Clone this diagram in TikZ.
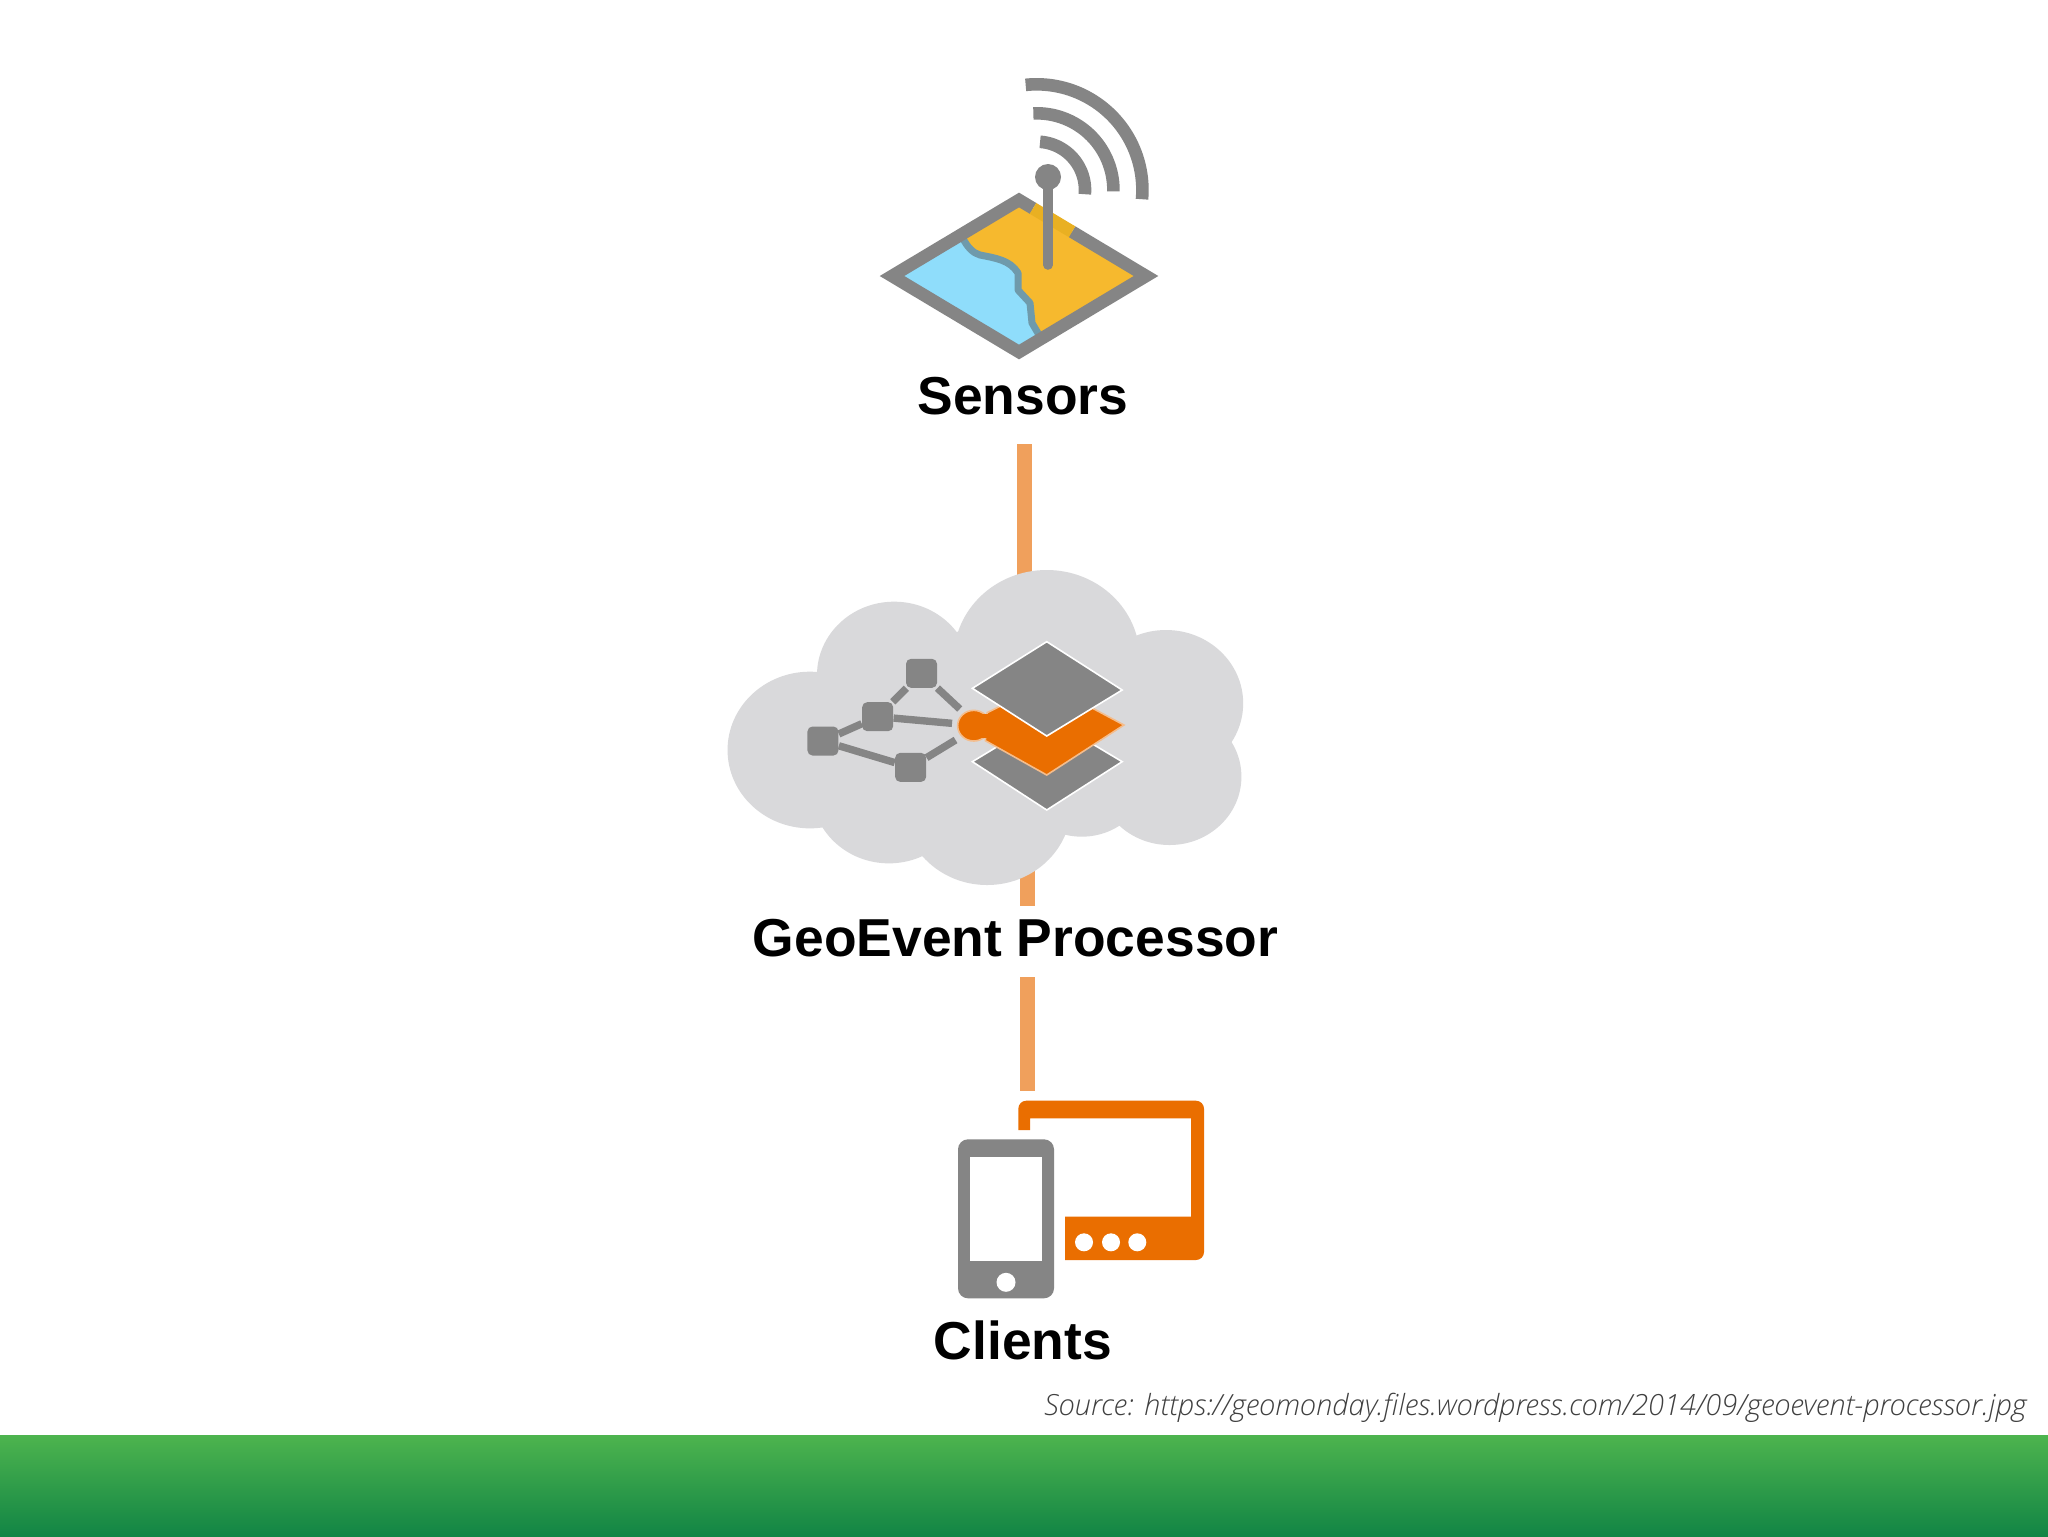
\documentclass[tikz,border=0pt]{standalone}
\usepackage{fontspec}
\setmainfont{Liberation Sans}
\newfontfamily\srcfont{Open Sans Light}
\definecolor{gr}{HTML}{858585}
\definecolor{cloudc}{HTML}{D9D9DB}
\definecolor{orng}{HTML}{EA6E00}
\definecolor{conn}{HTML}{F0A05C}
\definecolor{gold}{HTML}{F6B92E}
\definecolor{golddk}{HTML}{E9B022}
\definecolor{sea}{HTML}{8FDDFB}
\definecolor{coast}{HTML}{6F9AAB}
\definecolor{bandtop}{HTML}{4DB44E}
\definecolor{bandbot}{HTML}{128545}
\definecolor{srcc}{HTML}{404040}
\tikzset{
  lbl/.style={font=\fontsize{26.7}{30}\selectfont\bfseries,text=black,inner sep=0pt,anchor=base},
  connector/.style={draw=conn,line width=7.5pt},
  netnode/.style={fill=gr,draw=none,rounded corners=2.5pt,minimum width=15.5pt,minimum height=14.5pt,inner sep=0pt},
  netline/.style={draw=gr,line width=3.7pt},
  zcloud/.style={shift={(710,560)},x=0.17538pt,y=-0.16667pt},
  lobe/.style={fill=cloudc,draw=none},
}
\newcommand{\wifi}[3]{\draw[gr,line width=6.3pt] plot[domain=#2:#3,samples=40,smooth] ({1036.7+#1*cos(\x)},{190-#1*sin(\x)});}
\begin{document}
\begin{tikzpicture}[x=0.5pt,y=-0.5pt]
\useasboundingbox (0,0) rectangle (2048,1536);
\fill[white] (0,0) rectangle (2048,1536);
% green band
\fill[top color=bandtop,bottom color=bandbot] (0,1435) rectangle (2048,1536);
% labels
\node[lbl] (sensors) at (1023,414) {Sensors};
\node[lbl] (geo) at (1015.5,956) {GeoEvent Processor};
\node[lbl] (clients) at (1023,1359.5) {Clients};
\node[font=\fontsize{14.58}{17}\selectfont\srcfont\itshape,text=srcc,inner sep=0pt,anchor=base east] (src) at (2027,1415) {Source: https://geomonday.files.wordpress.com/2014/09/geoevent-processor.jpg};
% connector ends
\coordinate (s1) at (1024,444);
\coordinate (c1) at (1024,590);
\coordinate (c2) at (1027,870);
\coordinate (g1) at (1027,906);
\coordinate (g2) at (1027,977);
\coordinate (t1) at (1027,1091);
\draw[connector] (s1) -- (c1);
\draw[connector] (c2) -- (g1);
\draw[connector] (g2) -- (t1);
% sensor map
\fill[sea] (892,276) -- (1019,200) -- (1146,276) -- (1019,352) -- cycle;
\fill[gold] (962,237) .. controls (968,248) and (973,253) .. (980,255) .. controls (995,258) and (1010,260) .. (1018,273) -- (1018,290) -- (1030,303) -- (1032,323) -- (1042,340) -- (1146,276) -- (1019,200) -- cycle;
\draw[coast,line width=3.5pt,line join=round] (962,237) .. controls (968,248) and (973,253) .. (980,255) .. controls (995,258) and (1010,260) .. (1018,273) -- (1018,290) -- (1030,303) -- (1032,323) -- (1042,340);
\draw[gr,line width=6.3pt] (1033,208.4) -- (1019,200) -- (892,276) -- (1019,352) -- (1146,276) -- (1072,231.7);
\draw[golddk,line width=6.3pt] (1033,208.4) -- (1072,231.7);
% antenna
\draw[gr,line width=4.8pt,line cap=round] (1048,177) -- (1048,265);
\fill[gr] (1048,177) circle[radius=13];
\wifi{105.7}{96}{-5}
\wifi{76.7}{92.5}{-1}
\wifi{48.3}{86}{-5}
% cloud
\begin{scope}[zcloud]
\fill[lobe] (285,570) circle[radius=235];
\fill[lobe] (525,345) circle[radius=220];
\fill[lobe] (960,295) circle[radius=265];
\fill[lobe] (1300,430) circle[radius=220];
\fill[lobe] (1310,650) circle[radius=205];
\fill[lobe] (1060,640) circle[radius=190];
\fill[lobe] (790,735) circle[radius=240];
\fill[lobe] (510,690) circle[radius=220];
\fill[lobe] (800,500) circle[radius=300];
% layers
\fill[gr,draw=white,line width=0.8pt] (748,605) -- (960,470) -- (1175,605) -- (960,750) -- cycle;
\fill[orng,draw=conn!70!white,line width=0.8pt] (790,458) -- (960,370) -- (1100,450) -- (1180,495) -- (960,645) -- (785,542) -- cycle;
\fill[orng,draw=conn!70!white,line width=0.8pt] (752,497) circle[radius=46];
\fill[orng] (770,462) rectangle (830,535);
\fill[gr,draw=white,line width=0.8pt] (748,385) -- (960,245) -- (1175,390) -- (960,528) -- cycle;
% network
\node[netnode] (na) at (603,340) {};
\node[netnode] (nb) at (478,470) {};
\node[netnode] (nc) at (322,543) {};
\node[netnode] (nd) at (572,622) {};
\coordinate (ea) at (712,447);
\coordinate (eb) at (690,490);
\coordinate (ed) at (700,540);
\draw[netline] (na) -- (ea);
\draw[netline] (na) -- (nb);
\draw[netline] (nb) -- (eb);
\draw[netline] (nb) -- (nc);
\draw[netline] (nc) -- (nd);
\draw[netline] (nd) -- (ed);
\end{scope}
% tablet
\fill[orng,rounded corners=4pt] (1018.3,1130) -- (1018.3,1100.7) -- (1204,1100.7) -- (1204,1260) [sharp corners] -- (1065,1260) -- (1065,1216.7) -- (1191,1216.7) -- (1191,1118.3) -- (1030,1118.3) -- (1030,1130) -- cycle;
\foreach \dx in {1084,1111,1137.3} \fill[white] (\dx,1242.3) circle[radius=9];
% phone
\fill[gr,rounded corners=5pt] (958,1139.3) rectangle (1054,1298.3);
\fill[white] (970,1156.7) rectangle (1041.7,1261);
\fill[white] (1006,1282.3) circle[radius=9.5];
\end{tikzpicture}
\end{document}
